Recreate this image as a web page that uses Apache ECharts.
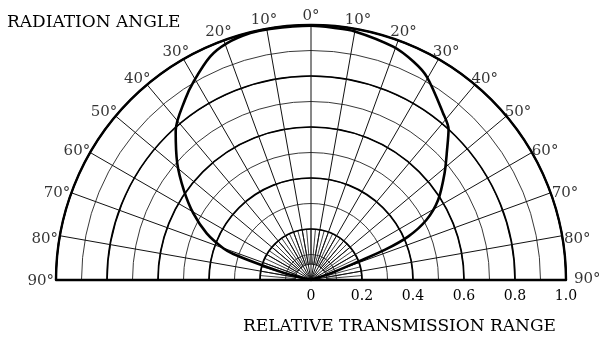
<!DOCTYPE html>
<html>
<head>
<meta charset="utf-8">
<script src="https://cdn.jsdelivr.net/npm/echarts@6/dist/echarts.min.js"></script>
<style>
  html, body { margin: 0; padding: 0; background: #fff; }
  #chart { width: 599px; height: 337px; }
</style>
</head>
<body>
<div id="chart"></div>
<script>
// Radiation pattern: angle off axis (degrees, left side negative) and relative range
const patternAngle = [-76, -75.2, -72.9, -71.5, -70.1, -65.9, -60.5, -54.8, -48.9, -42.2, -35, -30.5, -24.3, -19.6, -13.8, -9.3, 0,
                      5, 10, 19.4, 25.1, 29.7, 38.3, 42.4, 46.3, 51.4, 57.8, 62.5, 65.9, 67.8, 68.7, 70.7, 72, 74];
const patternRange = [0, 0.112, 0.223, 0.321, 0.366, 0.448, 0.53, 0.61, 0.696, 0.79, 0.862, 0.905, 0.961, 0.985, 0.997, 0.998, 0.997,
                      0.993, 0.99, 0.97, 0.946, 0.917, 0.835, 0.80, 0.738, 0.67, 0.589, 0.51, 0.417, 0.312, 0.198, 0.098, 0.04, 0];

// Axis ticks
const angleTicks = [-90, -80, -70, -60, -50, -40, -30, -20, -10, 0, 10, 20, 30, 40, 50, 60, 70, 80, 90];
const angleStep = 10, angleFineStep = 5;
const rangeTicks = { min: 0, max: 1, step: 0.2, minorStep: 0.1 };

const serif = '"DejaVu Serif", "Liberation Serif", serif';
const center = [311, 280];
const outer = 255;
const hubInner = 16;    // small hub circle
const hubOuter = 51;    // 0.2 ring, limit of the 5-degree spokes
const labelRing = 1.06; // radial position of the angle labels, just outside the rim

const angleMin = angleTicks[0], angleMax = angleTicks[angleTicks.length - 1];

const hidden = {
  axisLine: { show: false }, axisTick: { show: false },
  axisLabel: { show: false }, splitLine: { show: false }
};

const chart = echarts.init(document.getElementById('chart'), null, { renderer: 'canvas' });

chart.setOption({
  animation: false,
  backgroundColor: '#ffffff',
  title: [
    { text: 'RADIATION ANGLE', left: 2, top: 9,
      textStyle: { fontFamily: serif, fontSize: 17, fontWeight: 'normal', color: '#000' } },
    { text: 'RELATIVE TRANSMISSION RANGE', left: 238, top: 313,
      textStyle: { fontFamily: serif, fontSize: 17, fontWeight: 'normal', color: '#000' } }
  ],
  polar: [
    { center: center, radius: outer },                // 0: main half-disc
    { center: center, radius: outer },                // 1: right baseline with range labels
    { center: center, radius: outer },                // 2: thin rings every 0.1
    { center: center, radius: [hubInner, hubOuter] }, // 3: fine spokes near the hub
    { center: center, radius: hubInner }              // 4: hub circle
  ],
  angleAxis: [
    {
      polarIndex: 0,
      type: 'value',
      min: angleMin, max: angleMax, interval: angleStep,
      startAngle: 180, endAngle: 0, clockwise: true,
      axisLine: { show: true, lineStyle: { color: '#000', width: 2.4 } },
      axisTick: { show: false },
      axisLabel: { show: false },
      splitLine: { show: true, lineStyle: { color: '#111', width: 1 } },
      z: 5
    },
    Object.assign({ polarIndex: 1, type: 'value', min: 0, max: 360, startAngle: 0 }, hidden),
    Object.assign({ polarIndex: 2, type: 'value', min: angleMin, max: angleMax,
      startAngle: 180, endAngle: 0, clockwise: true, z: 1 }, hidden),
    Object.assign({ polarIndex: 3, type: 'value', min: angleMin, max: angleMax,
      interval: angleFineStep, startAngle: 180, endAngle: 0, clockwise: true }, hidden,
      { splitLine: { show: true, lineStyle: { color: '#111', width: 0.8 } } }),
    Object.assign({ polarIndex: 4, type: 'value', min: angleMin, max: angleMax,
      startAngle: 180, endAngle: 0, clockwise: true }, hidden,
      { axisLine: { show: true, lineStyle: { color: '#111', width: 1 } } })
  ],
  radiusAxis: [
    {
      polarIndex: 0,
      type: 'value',
      min: rangeTicks.min, max: rangeTicks.max, interval: rangeTicks.step,
      axisLine: { show: true, lineStyle: { color: '#000', width: 2.4 } },
      axisTick: { show: false },
      axisLabel: { show: false },
      splitLine: { show: true, lineStyle: { color: '#000', width: 1.7 } },
      z: 5
    },
    {
      polarIndex: 1,
      type: 'value',
      min: rangeTicks.min, max: rangeTicks.max, interval: rangeTicks.step,
      axisLine: { show: true, lineStyle: { color: '#000', width: 2.4 } },
      axisTick: { show: false },
      axisLabel: {
        show: true, margin: -9, verticalAlign: 'top',
        fontFamily: serif, fontSize: 14, color: '#000',
        formatter: v => (v === 0 ? '0' : v.toFixed(1))
      },
      splitLine: { show: false },
      z: 5
    },
    Object.assign({ polarIndex: 2, type: 'value', min: rangeTicks.min, max: rangeTicks.max,
      interval: rangeTicks.minorStep, z: 1 }, hidden,
      { splitLine: { show: true, lineStyle: { color: '#222', width: 0.9 } } }),
    Object.assign({ polarIndex: 3, type: 'value', min: 0, max: 1 }, hidden),
    Object.assign({ polarIndex: 4, type: 'value', min: 0, max: 1 }, hidden)
  ],
  series: [
    {
      type: 'line',
      coordinateSystem: 'polar',
      polarIndex: 0,
      data: patternAngle.map((a, i) => [patternRange[i], a]),
      showSymbol: false,
      smooth: 0.3,
      lineStyle: { color: '#000', width: 2.6 },
      z: 10
    },
    {
      // degree labels around the rim
      type: 'scatter',
      coordinateSystem: 'polar',
      polarIndex: 0,
      clip: false,
      symbolSize: 0,
      silent: true,
      data: angleTicks.map(a => {
        const item = { value: [labelRing, a] };
        if (a === angleMax) item.label = { offset: [6, -1] };
        if (a === angleMin) item.label = { offset: [0, 1] };
        return item;
      }),
      label: {
        show: true, position: 'inside', offset: [0, 6],
        align: 'center', verticalAlign: 'middle',
        fontFamily: serif, fontSize: 15, color: '#000',
        formatter: p => Math.abs(p.value[1]) + '°'
      },
      z: 10
    }
  ]
});
</script>
</body>
</html>
